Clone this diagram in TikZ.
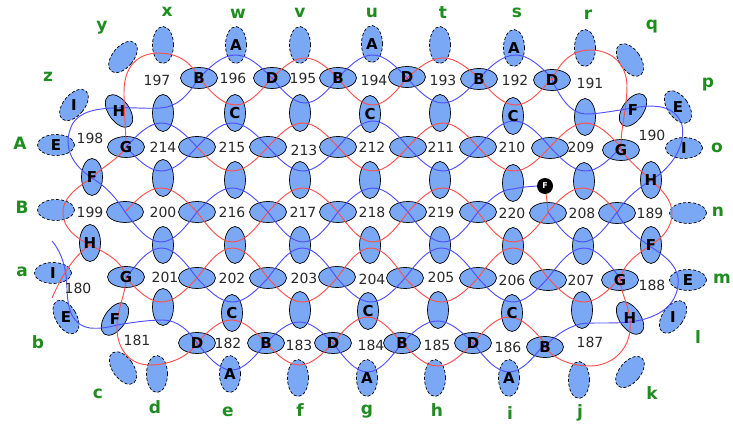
\documentclass[tikz,border=0pt]{standalone}
\usepackage{fontspec}
\setmainfont{DejaVu Sans}
\usetikzlibrary{shapes.geometric}
\definecolor{efill}{RGB}{122,168,245}
\definecolor{lblgreen}{RGB}{30,140,30}
\definecolor{cred}{RGB}{255,80,80}
\definecolor{cblue}{RGB}{80,80,255}
\definecolor{numgray}{RGB}{40,40,40}
% xL xR y ampTop ampBot topstyle botstyle
\newcommand{\facearc}[7]{%
  \draw[#6] (#1,#3) sin ({(#1+#2)/2},{#3-#4}) cos (#2,#3);
  \draw[#7] (#1,#3) sin ({(#1+#2)/2},{#3+#5}) cos (#2,#3);}
\begin{document}
\begin{tikzpicture}[x=1pt,y=-1pt,
  el/.style={ellipse, draw=black, fill=efill, inner sep=0pt, line width=0.7pt},
  hel/.style={el, minimum width=37pt, minimum height=21pt},
  vel/.style={el, minimum width=21pt, minimum height=37pt},
  bd/.style={dash pattern=on 3pt off 2pt},
  lett/.style={inner sep=0pt, font=\bfseries\fontsize{15}{15}\selectfont},
  num/.style={text=numgray, font=\fontsize{14}{14}\selectfont, inner sep=0pt},
  glab/.style={text=lblgreen, font=\bfseries\fontsize{17}{17}\selectfont, inner sep=0pt},
  rc/.style={draw=cred, line width=0.95pt},
  bc/.style={draw=cblue, line width=0.95pt}]
\useasboundingbox (0,0) rectangle (733,427);
% ---------- ellipses ----------
% top dashed row
\node[vel,bd,rotate=-40] (ey) at (123,57) {};
\node[vel,bd] (ex) at (163,45) {};
\node[vel,bd] (ew) at (236,45) {};
\node[vel,bd] (ev) at (300,45) {};
\node[vel,bd] (eu) at (372,44) {};
\node[vel,bd] (et) at (440,45) {};
\node[vel,bd] (es) at (514,48) {};
\node[vel,bd] (er) at (585,48) {};
\node[vel,bd,rotate=35] (eq) at (630,60) {};
% row H1
\node[hel] (h11) at (199,78) {};
\node[hel] (h12) at (272,78) {};
\node[hel] (h13) at (338,78) {};
\node[hel] (h14) at (407,77) {};
\node[hel] (h15) at (479,79) {};
\node[hel] (h16) at (552,80) {};
% row V1
\node[vel,bd,rotate=-40] (ez) at (74,105) {};
\node[vel,rotate=35] (v10) at (119,111) {};
\node[vel] (v11) at (163,113) {};
\node[vel] (v12) at (235,113) {};
\node[vel] (v13) at (300,113) {};
\node[vel] (v14) at (370,114) {};
\node[vel] (v15) at (440,113) {};
\node[vel] (v16) at (513,116) {};
\node[vel] (v17) at (585,117) {};
\node[vel,rotate=-35] (v18) at (633,110) {};
\node[vel,bd,rotate=35] (ep) at (678,107) {};
% row H2
\node[hel,bd] (eA) at (56,145) {};
\node[hel] (h20) at (126,147) {};
\node[hel] (h21) at (197,147) {};
\node[hel] (h22) at (268,147) {};
\node[hel] (h23) at (338,147) {};
\node[hel] (h24) at (408,147) {};
\node[hel] (h25) at (478,147) {};
\node[hel] (h26) at (550,148) {};
\node[hel] (h27) at (621,150) {};
\node[hel,bd] (eo) at (684,148) {};
% row V2
\node[vel] (v20) at (92,177) {};
\node[vel] (v21) at (163,178) {};
\node[vel] (v22) at (235,180) {};
\node[vel] (v23) at (300,180) {};
\node[vel] (v24) at (370,180) {};
\node[vel] (v25) at (440,180) {};
\node[vel] (v26) at (513,183) {};
\node[vel] (v27) at (584,181) {};
\node[vel] (v28) at (651,180) {};
% row H3
\node[hel,bd] (eB) at (56,210) {};
\node[hel] (h30) at (125,212) {};
\node[hel] (h31) at (197,212) {};
\node[hel] (h32) at (268,212) {};
\node[hel] (h33) at (338,212) {};
\node[hel] (h34) at (408,212) {};
\node[hel] (h35) at (478,212) {};
\node[hel] (h36) at (548,213) {};
\node[hel] (h37) at (617,213) {};
\node[hel,bd] (en) at (688,213) {};
% row V3
\node[vel] (v30) at (90,243) {};
\node[vel] (v31) at (163,245) {};
\node[vel] (v32) at (235,245) {};
\node[vel] (v33) at (300,245) {};
\node[vel] (v34) at (370,245) {};
\node[vel] (v35) at (440,245) {};
\node[vel] (v36) at (513,246) {};
\node[vel] (v37) at (583,246) {};
\node[vel] (v38) at (651,245) {};
% row H4
\node[hel,bd] (ea) at (53,273) {};
\node[hel] (h40) at (126,277) {};
\node[hel] (h41) at (197,278) {};
\node[hel] (h42) at (268,278) {};
\node[hel] (h43) at (337,277) {};
\node[hel] (h44) at (405,278) {};
\node[hel] (h45) at (478,278) {};
\node[hel] (h46) at (548,280) {};
\node[hel] (h47) at (620,280) {};
\node[hel,bd] (em) at (688,280) {};
% row V4
\node[vel,bd,rotate=30] (eb) at (66,317) {};
\node[vel,rotate=-35] (v40) at (115,319) {};
\node[vel] (v41) at (163,307) {};
\node[vel] (v42) at (232,313) {};
\node[vel] (v43) at (300,310) {};
\node[vel] (v44) at (368,311) {};
\node[vel] (v45) at (438,310) {};
\node[vel] (v46) at (512,313) {};
\node[vel] (v47) at (582,310) {};
\node[vel,rotate=35] (v48) at (630,318) {};
\node[vel,bd,rotate=-35] (el) at (673,317) {};
% row H5
\node[hel] (h51) at (197,343) {};
\node[hel] (h52) at (266,343) {};
\node[hel] (h53) at (333,343) {};
\node[hel] (h54) at (402,343) {};
\node[hel] (h55) at (473,343) {};
\node[hel] (h56) at (545,347) {};
% bottom dashed row
\node[vel,bd,rotate=35] (ec) at (123,368) {};
\node[vel,bd] (ed) at (157,374) {};
\node[vel,bd] (ee) at (230,374) {};
\node[vel,bd] (ef) at (298,378) {};
\node[vel,bd] (eg) at (367,378) {};
\node[vel,bd] (eh) at (435,378) {};
\node[vel,bd] (ei) at (509,378) {};
\node[vel,bd] (ej) at (579,380) {};
\node[vel,bd,rotate=-40] (ek) at (630,372) {};
% ---------- curves ----------
% band 0
\facearc{199}{272}{78}{23}{27}{bc}{rc}
\facearc{272}{338}{78}{20}{25}{rc}{bc}
\facearc{338}{407}{78}{23}{27}{bc}{rc}
\facearc{407}{479}{78}{20}{25}{rc}{bc}
\facearc{479}{552}{78}{23}{27}{bc}{rc}
% band 1
\facearc{126}{197}{147}{24}{24}{bc}{bc}
\facearc{197}{268}{147}{24}{24}{bc}{rc}
\facearc{268}{338}{147}{24}{24}{rc}{bc}
\facearc{338}{408}{147}{26}{24}{bc}{rc}
\facearc{408}{478}{147}{24}{24}{rc}{bc}
\facearc{478}{550}{147}{26}{24}{bc}{rc}
\facearc{550}{621}{147}{24}{24}{rc}{bc}
% band 2
\facearc{125}{197}{212}{24}{30}{rc}{bc}
\facearc{197}{268}{212}{24}{30}{bc}{rc}
\facearc{268}{338}{212}{24}{30}{rc}{bc}
\facearc{338}{408}{212}{24}{30}{bc}{rc}
\facearc{408}{478}{212}{24}{30}{rc}{bc}
\draw[rc] (478,212) sin (513,242) cos (548,213);
\facearc{548}{617}{212}{24}{30}{rc}{bc}
% band 3
\facearc{126}{197}{278}{30}{24}{bc}{rc}
\facearc{197}{268}{278}{30}{24}{rc}{bc}
\facearc{268}{337}{278}{30}{24}{bc}{rc}
\facearc{337}{405}{278}{30}{24}{rc}{bc}
\facearc{405}{478}{278}{30}{24}{bc}{rc}
\facearc{478}{548}{278}{30}{24}{rc}{bc}
\facearc{548}{620}{278}{30}{24}{bc}{rc}
% band 4
\facearc{197}{266}{343}{23}{27}{rc}{bc}
\facearc{266}{333}{343}{21}{22}{bc}{rc}
\facearc{333}{402}{343}{26}{29}{rc}{bc}
\facearc{402}{473}{343}{22}{23}{bc}{rc}
\facearc{473}{545}{343}{26}{29}{rc}{bc}
% marker junction (face 220 / 208)
\draw[bc] (478,212) sin (513,189) .. controls (522,187) and (532,186) .. (545,186);
\draw[rc] (545,186) .. controls (546,196) and (548,205) .. (548,213);
% left boundary
\draw[rc] (199,78) .. controls (190,60) and (176,53) .. (157,53) .. controls (136,54) and (124,68) .. (124,92)
  .. controls (124,115) and (126,130) .. (126,147)
  .. controls (118,160) and (100,168) .. (92,178) .. controls (75,188) and (62,200) .. (63,213)
  .. controls (63,228) and (76,238) .. (90,245) .. controls (104,252) and (122,260) .. (126,277)
  .. controls (126,295) and (116,310) .. (117,330) .. controls (118,350) and (130,365) .. (150,365)
  .. controls (172,365) and (190,355) .. (197,343);
\draw[bc] (199,78) .. controls (188,95) and (178,107) .. (160,108) .. controls (145,109) and (130,107) .. (119,108)
  .. controls (95,108) and (75,112) .. (70,130) .. controls (64,148) and (72,165) .. (92,178)
  .. controls (105,186) and (115,196) .. (125,212);
\draw[bc] (52,241) .. controls (64,255) and (67,275) .. (67,290) .. controls (68,310) and (72,325) .. (90,328)
  .. controls (100,329) and (110,327) .. (117,325) .. controls (135,322) and (150,320) .. (163,320)
  .. controls (178,320) and (190,332) .. (197,343);
\draw[rc] (52,298) .. controls (60,280) and (72,257) .. (90,245);
% right boundary
\draw[rc] (552,80) .. controls (560,62) and (572,50) .. (590,50) .. controls (610,50) and (626,62) .. (627,85)
  .. controls (627,110) and (620,130) .. (621,150)
  .. controls (630,162) and (642,172) .. (651,180) .. controls (662,190) and (672,200) .. (672,213)
  .. controls (672,228) and (662,238) .. (651,245) .. controls (638,254) and (624,262) .. (620,280)
  .. controls (622,298) and (632,310) .. (630,330) .. controls (628,352) and (610,366) .. (590,366)
  .. controls (568,366) and (552,357) .. (545,347);
\draw[bc] (552,80) .. controls (560,97) and (570,113) .. (585,114) .. controls (600,114) and (618,110) .. (633,108)
  .. controls (655,104) and (675,105) .. (682,125) .. controls (686,145) and (672,168) .. (651,180)
  .. controls (636,190) and (624,200) .. (617,213);
\draw[bc] (617,213) .. controls (625,228) and (638,238) .. (651,247) .. controls (668,258) and (680,268) .. (678,285)
  .. controls (676,305) and (660,318) .. (630,322) .. controls (610,324) and (590,322) .. (580,324)
  .. controls (565,328) and (552,338) .. (545,347);
% black marker
\node[circle, fill=black, minimum size=16pt, inner sep=0pt, text=white, font=\bfseries\fontsize{8}{8}\selectfont] (blk) at (545,186) {F};
% ---------- letters in ellipses (upright, on top) ----------
\foreach \n/\t in {ew/A,eu/A,es/A,ee/A,eg/A,ei/A,
  h11/B,h12/D,h13/B,h14/D,h15/B,h16/D,h51/D,h52/B,h53/D,h54/B,h55/D,h56/B,
  v12/C,v14/C,v16/C,v42/C,v44/C,v46/C,
  ez/I,v10/H,v18/F,ep/E,eA/E,h20/G,h27/G,eo/I,v20/F,v28/H,v30/H,v38/F,
  ea/I,h40/G,h47/G,em/E,eb/E,v40/F,v48/H,el/I}
  \node[lett] at (\n) {\t};
% ---------- face numbers ----------
\foreach \t/\x/\y in {197/157/80,196/233/78,195/303/78,194/374/80,193/443/80,192/515/80,191/590/83,
  198/90/138,214/163/147,215/232/147,213/304/150,212/372/147,211/441/147,210/512/147,209/581/147,190/652/135,
  199/90/212,200/163/212,216/232/212,217/303/212,218/372/212,219/441/212,220/512/213,208/582/213,189/650/213,
  180/78/288,201/165/277,202/232/278,203/304/278,204/372/279,205/441/277,206/512/280,207/581/280,188/652/285,
  181/137/340,182/228/343,183/299/345,184/371/345,185/437/345,186/508/347,187/590/342}
  \node[num] at (\x,\y) {\t};
% ---------- green labels ----------
\foreach \t/\x/\y in {y/102/28,x/167/12,w/238/14,v/300/13,u/372/13,t/443/13,s/517/13,r/588/15,q/652/27,
  p/708/85,o/717/148,n/718/212,m/722/279,l/698/337,k/652/393,j/580/413,i/510/413,h/437/410,g/367/412,
  f/300/410,e/228/412,d/155/407,c/98/394,b/38/342,a/22/272,B/22/207,A/20/143,z/48/77}
  \node[glab] at (\x,\y) {\t};
\end{tikzpicture}
\end{document}
